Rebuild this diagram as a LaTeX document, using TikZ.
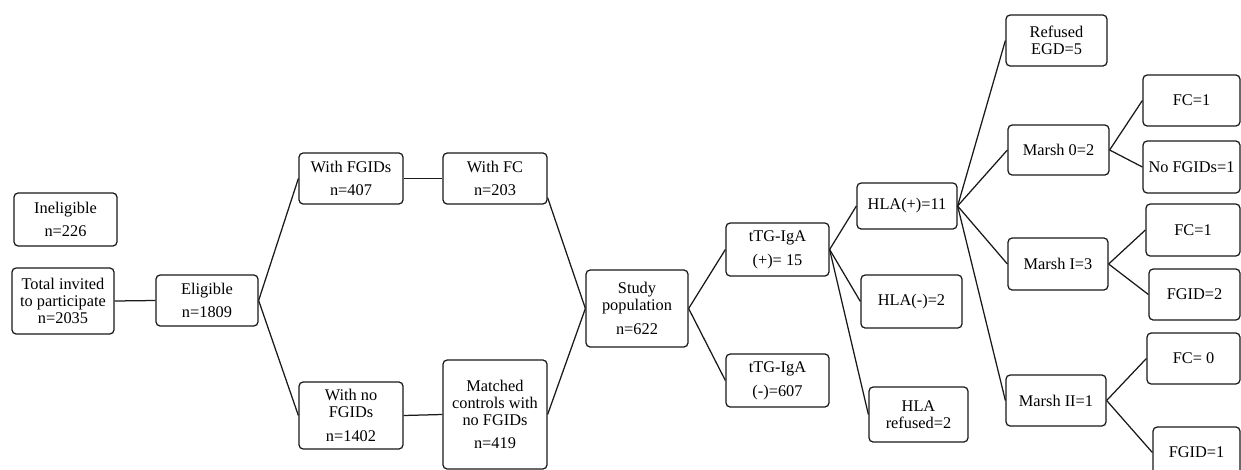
\documentclass[tikz,border=0pt]{standalone}
\usepackage{fontspec}
\setmainfont{Liberation Serif}

\begin{document}
\begin{tikzpicture}[
    x=0.6pt, y=-0.6pt,
    box_style/.style={draw, black!90, text=black, line width=0.75pt, rounded corners=2.5pt, align=center, inner sep=1pt, font=\fontsize{9.8}{10.2}\selectfont, minimum width=61.2pt, minimum height=30.6pt},
    wide_box/.style={box_style, minimum width=62.4pt},
    link_style/.style={black!90, line width=0.75pt}
]
\useasboundingbox (0,0) rectangle (1241,470);
\clip (0,0) rectangle (1241,470);

% ENROLMENT
\node[box_style, minimum width=61.8pt, minimum height=31.8pt] (inelig) at (65.5,219.5) {Ineligible\\[4pt]n=226};
\node[box_style, minimum height=39.6pt] (invited) at (63,301) {Total invited\\to participate\\n=2035};
\node[box_style] (elig) at (207,300.5) {Eligible\\[4pt]n=1809};

% FGID split
\node[wide_box] (fgid) at (351,178.5) {With FGIDs\\[4pt]n=407};
\node[wide_box, minimum height=40.2pt] (nofgid) at (351,415.5) {With no\\FGIDs\\[4pt]n=1402};
\node[wide_box] (withfc) at (495,178.5) {With FC\\[4pt]n=203};
\node[wide_box, minimum height=65.4pt] (matched) at (495,414.5) {Matched\\controls with\\no FGIDs\\[4pt]n=419};

% Study population and serology
\node[box_style, minimum height=46.2pt] (study) at (637,308.5) {Study\\population\\[4pt]n=622};
\node[box_style, minimum width=61.8pt, minimum height=31.8pt] (ttgpos) at (777.5,249.5) {tTG-IgA\\[4pt](+)= 15};
\node[box_style, minimum width=61.8pt, minimum height=31.8pt] (ttgneg) at (777.5,380.5) {tTG-IgA\\[4pt](-)=607};

% HLA typing
\node[box_style, minimum width=60pt, minimum height=27.6pt] (hlapos) at (907,206) {HLA(+)=11};
\node[box_style, minimum width=60.6pt, minimum height=31.8pt] (hlaneg) at (911.5,301.5) {HLA(-)=2};
\node[box_style, minimum width=59.4pt, minimum height=33pt] (hlaref) at (918.5,414.5) {HLA\\refused=2};

% Endoscopy / Marsh grade
\node[box_style, minimum width=60.6pt] (refused) at (1056.5,40.5) {Refused\\EGD=5};
\node[box_style, minimum width=60.6pt, minimum height=30pt] (marsh0) at (1058.5,150) {Marsh 0=2};
\node[box_style, minimum width=60pt, minimum height=31.2pt] (marsh1) at (1058,264) {Marsh I=3};
\node[box_style, minimum width=60pt] (marsh2) at (1056,400.5) {Marsh II=1};

% Outcome per grade
\node[box_style, minimum width=58.2pt] (fcone) at (1191.5,100.5) {FC=1};
\node[box_style, minimum width=58.2pt, minimum height=31.2pt] (nofgidone) at (1191.5,167) {No FGIDs=1};
\node[box_style, minimum width=56.4pt, minimum height=31.2pt] (fctwo) at (1193,230) {FC=1};
\node[box_style, minimum width=54.6pt] (fgidtwo) at (1194.5,294.5) {FGID=2};
\node[box_style, minimum width=55.8pt] (fczero) at (1193.5,358.5) {FC= 0};
\node[box_style, minimum width=52.2pt] (fgidone) at (1196.5,452.5) {FGID=1};

% Connectors
\foreach \src/\dst in {invited.east/elig.west, elig.east/fgid.west, elig.east/nofgid.west,
    fgid.east/withfc.west, nofgid.east/matched.west, withfc.-20/study.west, matched.east/study.west,
    study.east/ttgpos.west, study.east/ttgneg.west,
    ttgpos.east/hlapos.west, ttgpos.east/hlaneg.west, ttgpos.east/hlaref.west,
    hlapos.east/refused.west, hlapos.east/marsh0.west, hlapos.east/marsh1.west, hlapos.east/marsh2.west,
    marsh0.east/fcone.west, marsh0.east/nofgidone.west,
    marsh1.east/fctwo.west, marsh1.east/fgidtwo.west,
    marsh2.east/fczero.west, marsh2.east/fgidone.west}
    \draw[link_style] (\src) -- (\dst);

\end{tikzpicture}
\end{document}
